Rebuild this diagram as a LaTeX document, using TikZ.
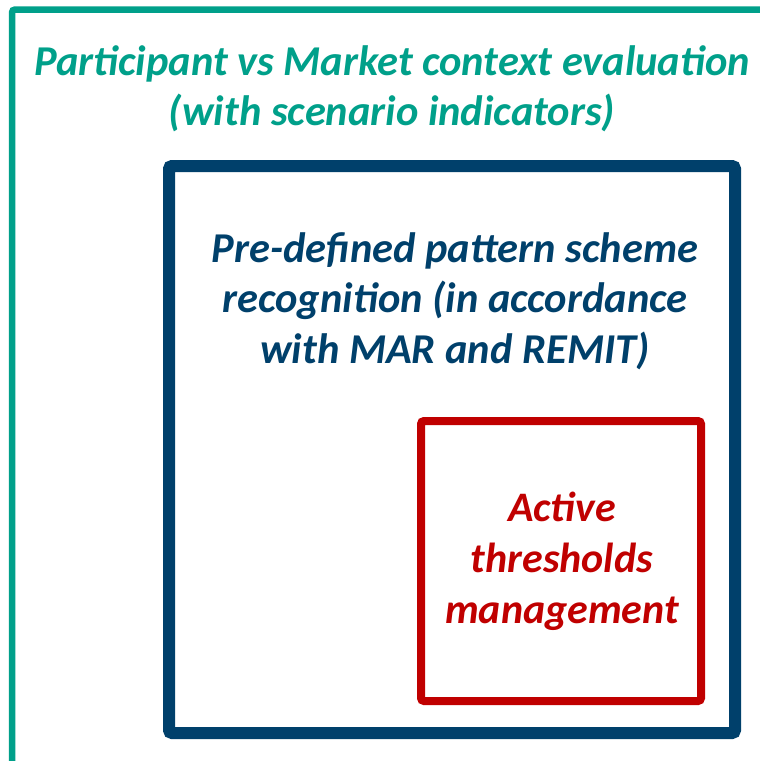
\documentclass[tikz,border=0pt]{standalone}
\usepackage{fontspec}
\setmainfont{Carlito}
\definecolor{tealgreen}{RGB}{0,160,138}
\definecolor{navyblue}{RGB}{0,64,107}
\definecolor{darkred}{RGB}{192,0,0}
\tikzset{
  frame/.style={line width=#1, rounded corners=3pt},
  label text/.style={align=center, inner sep=0pt}
}
\begin{document}
\begin{tikzpicture}[x=1pt,y=-1pt]
      \useasboundingbox (0,0) rectangle (760,761);
      \clip (0,0) rectangle (760,761);
      \fill[white] (0,0) rectangle (760,761);
      
      % three nested frames
      \draw[frame=6.5pt,tealgreen] (12,9.5) rectangle (790,800);
      \draw[frame=12pt,navyblue] (169,166) rectangle (735,733);
      \draw[frame=8pt,darkred] (421,421) rectangle (701,701);
      
      % texts
      \node[label text,tealgreen,font=\fontsize{42.5}{50}\selectfont\bfseries\itshape] (context) at (392,88.5) {Participant vs Market context evaluation\\(with scenario indicators)};
      \node[label text,navyblue,font=\fontsize{42.5}{50.5}\selectfont\bfseries\itshape] (pattern) at (455,301) {Pre-defined pattern scheme\\recognition (in accordance\\with MAR and REMIT)};
      \node[label text,darkred,font=\fontsize{42}{51}\selectfont\bfseries\itshape] (thresholds) at (562,561) {Active\\thresholds\\management};
    \end{tikzpicture}
\end{document}
